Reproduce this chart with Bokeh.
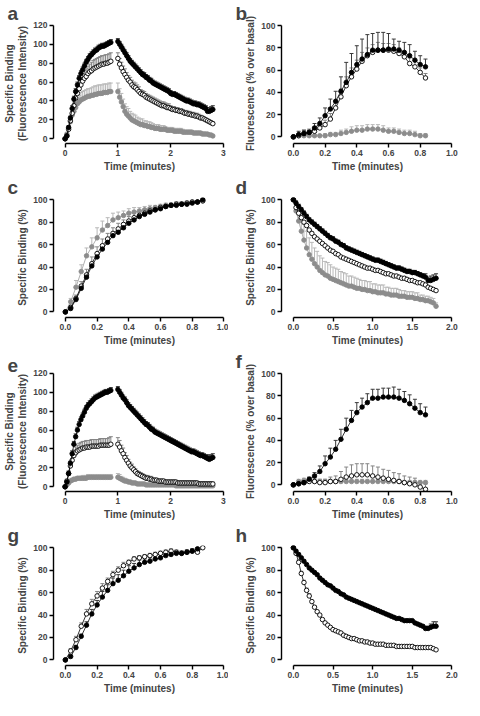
from bokeh.plotting import figure
from bokeh.layouts import gridplot
from bokeh.models import (ColumnDataSource, Whisker, TeeHead, Range1d, FixedTicker,
                          PrintfTickFormatter, LinearAxis)
from bokeh.embed import file_html
from bokeh.resources import INLINE

FONT = "Liberation Sans"

# ---------------- time grids (seconds, 2 s sampling) ----------------
T_ASSOC_SEC = list(range(0, 54, 2))      # 27 points, 0 .. 0.867 min
T_ASSOC26_SEC = list(range(0, 52, 2))    # 26 points, 0 .. 0.833 min
T_DISS_SEC = list(range(0, 110, 2))      # 55 points, 0 .. 1.8 min
DISS_START_SEC = 60                      # dissociation starts at 1 min in a / e

# ---------------- panel a ----------------
A_BLACK_ASSOC = [0, 3, 12, 22, 32, 42, 50, 57, 64, 69, 73, 77, 81, 84, 87, 89, 91, 93, 94, 96, 97, 98, 98, 99, 100, 101, 102]
A_BLACK_ASSOC_ERR = [0, 1, 2, 2, 3, 3, 3, 3, 3, 3, 3, 3, 3, 3, 3, 3, 3, 3, 3, 3, 3, 3, 3, 3, 3, 3, 3]
A_OPEN_ASSOC = [0, 3, 10, 19, 27, 35, 43, 48, 53, 57, 61, 64, 66, 69, 71, 72, 74, 75, 76, 77, 78, 79, 79, 80, 80, 81, 82]
A_OPEN_ASSOC_ERR = [0, 1, 2, 3, 4, 5, 6, 7, 7, 8, 8, 8, 8, 8, 8, 9, 9, 9, 9, 9, 9, 9, 9, 9, 9, 9, 9]
A_GRAY_ASSOC = [0, 5, 11, 18, 25, 29, 33, 37, 39, 41, 42, 43, 44, 45, 45, 46, 46, 47, 47, 48, 48, 48, 49, 49, 49, 50, 50]
A_GRAY_ASSOC_ERR = [0, 1, 2, 3, 4, 5, 6, 7, 7, 8, 8, 8, 8, 8, 8, 8, 9, 9, 9, 9, 9, 9, 9, 9, 9, 9, 9]
A_BLACK_DISS = [103, 100, 97, 94, 91, 88, 85, 82, 80, 78, 76, 74, 72, 70, 68, 67, 65, 64, 62, 61,
                59, 58, 57, 56, 55, 54, 53, 52, 51, 50, 48, 47, 47, 46, 45, 44, 43, 42, 41, 40,
                40, 39, 38, 37, 37, 36, 36, 35, 34, 33, 32, 29, 29, 30, 31]
A_BLACK_DISS_ERR = [3] * 51 + [4, 4, 4, 4]
A_OPEN_DISS = [85, 79, 75, 71, 68, 65, 62, 60, 57, 55, 54, 52, 50, 48, 47, 46, 44, 43, 42, 41,
               40, 39, 38, 37, 36, 35, 35, 34, 33, 33, 32, 31, 31, 30, 30, 29, 29, 28, 27, 27,
               26, 26, 25, 25, 24, 24, 23, 22, 22, 21, 20, 19, 18, 17, 16]
A_OPEN_DISS_ERR = [6, 6, 6, 6, 6, 5, 5, 5, 5, 5, 5, 5, 5, 4, 4, 4, 4, 4, 4, 4,
                   4, 4, 4, 4, 4, 4, 4, 4, 4, 4, 3, 3, 3, 3, 3, 3, 3, 3, 3, 3,
                   3, 3, 3, 3, 3, 3, 3, 3, 2, 2, 2, 2, 2, 2, 2]
A_GRAY_DISS = [50, 44, 39, 34, 29, 26, 24, 22, 20, 19, 18, 17, 16, 15, 15, 14, 14, 13, 13, 12,
               12, 11, 11, 11, 10, 10, 10, 10, 9, 9, 9, 9, 8, 8, 8, 8, 8, 7, 7, 7,
               7, 7, 7, 6, 6, 6, 6, 6, 5, 5, 5, 5, 4, 4, 3]
A_GRAY_DISS_ERR = [9, 9, 9, 8, 8, 8, 8, 7, 7, 7, 7, 6, 6, 6, 6, 5, 5, 5, 5, 5,
                   4, 4, 4, 4, 4, 4, 4, 3, 3, 3, 3, 3, 3, 3, 3, 3, 3, 3, 2, 2,
                   2, 2, 2, 2, 2, 2, 2, 2, 2, 2, 1, 1, 1, 1, 1]

# ---------------- panel b ----------------
B_BLACK = [0, 2, 3, 4, 8, 12, 19, 25, 32, 41, 49, 58, 65, 70, 74, 78, 78, 78, 79, 79, 78, 76, 73, 69, 65, 63]
B_BLACK_ERR = [0, 3, 3, 2, 4, 5, 7, 9, 9, 13, 18, 17, 17, 18, 18, 15, 16, 16, 14, 9, 8, 9, 10, 8, 8, 7]
B_OPEN = [0, 1, 3, 4, 5, 8, 11, 16, 26, 36, 46, 54, 61, 68, 73, 76, 78, 78, 78, 77, 75, 72, 66, 63, 58, 53]
B_OPEN_ERR = [0, 2, 3, 3, 3, 3, 4, 5, 6, 7, 8, 8, 8, 8, 7, 7, 7, 6, 6, 6, 5, 5, 5, 5, 4, 4]
B_GRAY = [0, 1, 1, 1, 1, 1, 1, 2, 2, 3, 4, 5, 6, 6, 7, 7, 7, 6, 5, 5, 4, 3, 3, 2, 1, 1]
B_GRAY_ERR = [0, 1, 1, 1, 1, 1, 2, 2, 2, 3, 3, 4, 4, 4, 4, 4, 4, 4, 3, 3, 3, 3, 3, 3, 2, 2]

# ---------------- panel c ----------------
C_BLACK = [0, 3, 11, 21, 31, 41, 49, 56, 62, 68, 71, 75, 79, 82, 85, 87, 89, 91, 92, 94, 95, 95, 96, 96, 97, 98, 100]
C_BLACK_ERR = [0, 1, 2, 2, 2, 2, 2, 2, 2, 2, 2, 2, 2, 1, 1, 1, 1, 1, 1, 1, 1, 1, 1, 1, 1, 1, 1]
C_OPEN = [0, 4, 12, 23, 33, 43, 52, 59, 65, 70, 74, 78, 81, 84, 86, 88, 90, 91, 93, 94, 95, 96, 96, 97, 98, 98, 99]
C_OPEN_ERR = [0, 2, 3, 4, 5, 6, 6, 6, 5, 5, 5, 4, 4, 4, 3, 3, 3, 2, 2, 2, 2, 2, 2, 1, 1, 1, 1]
C_GRAY = [0, 9, 22, 36, 50, 58, 66, 73, 77, 82, 84, 86, 88, 89, 90, 91, 92, 93, 94, 95, 95, 96, 96, 97, 98, 98, 99]
C_GRAY_ERR = [0, 3, 6, 6, 7, 8, 9, 8, 7, 6, 5, 4, 4, 4, 3, 3, 3, 2, 2, 2, 2, 2, 2, 2, 1, 1, 1]

# ---------------- panel d ----------------
D_BLACK = [100, 97, 94, 91, 88, 85, 82, 80, 78, 76, 74, 72, 70, 68, 66, 65, 63, 62, 60, 59,
           57, 56, 55, 54, 53, 52, 51, 50, 49, 48, 47, 46, 46, 45, 44, 43, 42, 41, 40, 39,
           39, 38, 37, 36, 36, 35, 35, 34, 33, 32, 31, 28, 28, 29, 30]
D_BLACK_ERR = [0] + [2] * 49 + [3, 3, 4, 4, 4]
D_OPEN = [100, 93, 88, 84, 80, 77, 73, 70, 67, 65, 63, 61, 59, 57, 55, 54, 52, 51, 49, 48,
          47, 46, 45, 44, 43, 42, 41, 40, 39, 39, 38, 37, 37, 36, 35, 34, 34, 33, 32, 32,
          31, 30, 30, 29, 28, 28, 27, 26, 26, 25, 24, 22, 21, 20, 19]
D_OPEN_ERR = [0] + [1] * 54
D_GRAY = [100, 90, 81, 72, 64, 57, 51, 47, 43, 40, 37, 35, 33, 32, 30, 29, 28, 27, 26, 25,
          24, 23, 23, 22, 21, 21, 20, 20, 19, 19, 18, 18, 17, 17, 17, 16, 16, 15, 15, 15,
          14, 14, 14, 13, 13, 13, 12, 12, 11, 11, 10, 10, 9, 8, 5]
D_GRAY_ERR = [0, 6, 10, 13, 14, 15, 15, 15, 14, 14, 13, 13, 12, 12, 12, 11, 11, 11, 10, 10,
              10, 9, 9, 9, 9, 8, 8, 8, 8, 8, 7, 7, 7, 7, 7, 6, 6, 6, 6, 6,
              6, 5, 5, 5, 5, 5, 5, 5, 4, 4, 4, 4, 4, 4, 3]

# ---------------- panel e ----------------
E_BLACK_ASSOC = [0, 5, 14, 25, 35, 45, 53, 60, 66, 71, 75, 79, 83, 86, 88, 90, 92, 94, 95, 96, 97, 98, 99, 100, 100, 101, 102]
E_BLACK_ASSOC_ERR = [0, 1, 2, 2, 3, 3, 3, 3, 3, 3, 3, 3, 3, 3, 3, 3, 3, 3, 3, 3, 3, 3, 3, 3, 3, 3, 3]
E_OPEN_ASSOC = [0, 6, 14, 22, 28, 33, 36, 38, 39, 40, 41, 41, 42, 42, 42, 43, 43, 43, 43, 43, 44, 44, 44, 44, 44, 44, 45]
E_OPEN_ASSOC_ERR = [0, 2, 3, 4, 5, 6, 6, 6, 7, 7, 7, 7, 7, 7, 7, 7, 7, 7, 7, 7, 7, 7, 7, 7, 7, 8, 8]
E_GRAY_ASSOC = [0, 2, 4, 6, 7, 8, 8, 9, 9, 9, 9, 9, 9, 10, 10, 10, 10, 10, 10, 10, 10, 10, 10, 10, 10, 10, 10]
E_GRAY_ASSOC_ERR = [0, 1, 1, 2, 2, 2, 2, 2, 2, 2] + [3] * 17
E_BLACK_DISS = [103, 100, 97, 94, 92, 89, 86, 84, 82, 80, 78, 76, 74, 72, 70, 68, 66, 65, 63, 61,
                60, 58, 57, 56, 55, 54, 53, 52, 51, 50, 49, 48, 47, 46, 45, 44, 43, 42, 41, 40,
                39, 38, 37, 37, 36, 35, 34, 33, 33, 32, 31, 30, 29, 30, 31]
E_BLACK_DISS_ERR = [3] * 51 + [4, 4, 4, 4]
E_OPEN_DISS = [45, 42, 38, 35, 31, 28, 25, 22, 20, 18, 16, 14, 13, 12, 11, 10, 9, 9, 8, 8,
               7, 7, 7, 6, 6, 6, 6, 5, 5, 5, 5, 5, 5, 5, 4, 4, 4, 4, 4, 4,
               4, 4, 4, 4, 4, 4, 3, 3, 3, 3, 3, 3, 3, 3, 3]
E_OPEN_DISS_ERR = [7, 7, 6, 6, 5, 5, 4, 4, 4, 3] + [3] * 10 + [2] * 35
E_GRAY_DISS = [10, 9, 8, 7, 6, 6, 5, 5, 4, 4, 4, 3, 3, 3, 3, 3, 2, 2, 2, 2,
               2, 2, 2, 2, 2, 2, 2, 2, 2, 2, 2, 2, 2, 1, 1, 1, 1, 1, 1, 1,
               1, 1, 1, 1, 1, 1, 1, 1, 1, 1, 1, 1, 1, 1, 1]
E_GRAY_DISS_ERR = [4, 4, 3, 3, 3, 2, 2, 2, 2, 2] + [1] * 45

# ---------------- panel f ----------------
F_BLACK = [0, 1, 2, 5, 8, 12, 19, 25, 32, 41, 50, 58, 65, 70, 74, 78, 78, 79, 79, 79, 78, 76, 73, 69, 65, 63]
F_BLACK_ERR = [0, 1, 1, 2, 3, 5, 7, 8, 8, 9, 10, 9, 9, 8, 8, 8, 8, 8, 8, 9, 8, 8, 8, 8, 8, 7]
F_OPEN = [0, 1, 2, 3, 3, 2, 2, 3, 3, 5, 7, 8, 9, 9, 9, 8, 7, 6, 5, 4, 3, 2, 1, 0, -2, -4]
F_OPEN_ERR = [0, 1, 2, 3, 3, 3, 3, 4, 5, 7, 9, 10, 10, 10, 10, 9, 9, 8, 8, 7, 7, 6, 6, 6, 5, 5]
F_GRAY = [0, 3, 4, 4, 3, 3, 3, 3, 3, 3, 3, 3, 3, 3, 3, 3, 3, 3, 3, 3, 3, 2, 2, 2, 2, 2]
F_GRAY_ERR = [0] + [2] * 25

# ---------------- panel g ----------------
G_BLACK = [0, 3, 11, 21, 31, 41, 49, 56, 62, 68, 71, 75, 79, 82, 85, 87, 88, 90, 91, 93, 94, 95, 95, 96, 97, 99]
G_BLACK_ERR = [0, 1, 2, 2, 3, 4, 4, 5, 5, 5, 5, 5, 5, 4, 4, 3, 3, 3, 3, 2, 2, 2, 2, 2, 2, 1]
G_OPEN = [0, 8, 18, 30, 41, 50, 57, 64, 70, 76, 80, 84, 87, 90, 91, 92, 93, 94, 95, 96, 97, 96, 95, 96, 97, 96, 100]
G_OPEN_ERR = [0, 2, 3, 3, 4, 4, 4, 4, 3, 3, 3, 3, 2, 2, 2, 2, 2, 2, 2, 2, 2, 2, 2, 2, 2, 2, 1]

# ---------------- panel h ----------------
H_BLACK = [100, 97, 94, 91, 88, 85, 82, 80, 78, 76, 73, 71, 69, 67, 66, 64, 62, 61, 59, 58,
           56, 55, 54, 53, 52, 51, 50, 49, 48, 47, 46, 45, 44, 43, 42, 41, 40, 39, 38, 37,
           37, 36, 35, 35, 35, 35, 33, 32, 31, 30, 28, 28, 29, 30, 30]
H_BLACK_ERR = [0] + [1] * 49 + [2, 2, 3, 4, 4]
H_OPEN = [100, 95, 87, 77, 69, 62, 57, 52, 47, 43, 40, 36, 33, 31, 29, 27, 26, 25, 24, 22,
          21, 20, 19, 19, 18, 17, 17, 16, 16, 15, 15, 14, 14, 14, 14, 13, 13, 13, 13, 12,
          12, 12, 12, 12, 12, 12, 11, 11, 11, 11, 11, 11, 11, 10, 9]
H_OPEN_ERR = [0, 1, 2, 2, 2, 2, 2, 1, 1, 1] + [1] * 45

# ---------------- labels ----------------
X_LABEL = "Time (minutes)"
Y_LABEL_RAW = ["Specific Binding", "(Fluorescence Intensity)"]
Y_LABEL_FLUO = ["Fluorescence (% over basal)"]
Y_LABEL_PCT = ["Specific Binding (%)"]
TICKS_X3 = [0, 1, 2, 3]
TICKS_X1 = [0.0, 0.2, 0.4, 0.6, 0.8, 1.0]
TICKS_X2 = [0.0, 0.5, 1.0, 1.5, 2.0]
TICKS_Y120 = [0, 20, 40, 60, 80, 100, 120]
TICKS_Y100 = [0, 20, 40, 60, 80, 100]

STYLES = {
    "black": dict(fill="black", line="black", err="#3a3a3a", conn="black"),
    "open": dict(fill="white", line="black", err="#858585", conn="black"),
    "gray": dict(fill="#8c8c8c", line="#8c8c8c", err="#b8b8b8", conn="#9a9a9a"),
}


def to_min(secs, start=0):
    return [(s + start) / 60.0 for s in secs]


def style_axis(ax):
    ax.axis_line_width = 1.4
    ax.major_tick_line_width = 1.4
    ax.major_tick_out = 4
    ax.major_tick_in = 0
    ax.minor_tick_out = 0
    ax.minor_tick_in = 0
    ax.major_label_text_font = FONT
    ax.major_label_text_font_style = "bold"
    ax.major_label_text_font_size = "8.5px"
    ax.major_label_standoff = 2
    ax.axis_label_text_font = FONT
    ax.axis_label_text_font_style = "bold"
    ax.axis_label_text_font_size = "10px"
    ax.axis_label_standoff = 2


def make_fig(letter, xr, yr, xticks, yticks, xfmt, ylabels):
    p = figure(frame_width=172, frame_height=120, output_backend="svg", toolbar_location=None,
               x_range=Range1d(*xr), y_range=Range1d(*yr),
               min_border_left=48, min_border_right=8, min_border_top=22, min_border_bottom=24)
    p.outline_line_color = None
    p.grid.visible = False
    p.background_fill_color = "white"
    p.border_fill_color = "white"
    for ax, ticks in ((p.xaxis[0], xticks), (p.yaxis[0], yticks)):
        ax.ticker = FixedTicker(ticks=ticks)
        ax.bounds = (ticks[0], ticks[-1])
        style_axis(ax)
    p.xaxis[0].formatter = PrintfTickFormatter(format=xfmt)
    p.yaxis[0].formatter = PrintfTickFormatter(format="%d")
    p.xaxis[0].axis_label = X_LABEL
    p.yaxis[0].axis_label = ylabels[-1]
    if len(ylabels) > 1:
        # outer line of a two-line y label, as a label-only axis
        extra = LinearAxis(ticker=FixedTicker(ticks=[]), axis_label=ylabels[0])
        style_axis(extra)
        extra.axis_line_color = None
        extra.major_tick_out = 0
        extra.major_label_text_font_size = "0px"
        extra.major_label_standoff = 0
        extra.axis_label_standoff = 0
        p.add_layout(extra, "left")
    p.title.text = letter
    p.title.align = "left"
    p.title.text_font = FONT
    p.title.text_font_style = "bold"
    p.title.text_font_size = "19px"
    p.title.offset = -46
    p.title.standoff = 0
    return p


def series(p, t, y, err, kind, line=True):
    st = STYLES[kind]
    n = min(len(t), len(y), len(err))
    t, y, err = t[:n], y[:n], err[:n]
    src = ColumnDataSource(dict(x=t, y=y, up=[a + b for a, b in zip(y, err)]))
    w = Whisker(source=src, base="x", lower="y", upper="up", dimension="height",
                line_color=st["err"], line_width=1, level="underlay",
                upper_head=TeeHead(size=4, line_color=st["err"], line_width=1),
                lower_head=None)
    p.add_layout(w)
    if line:
        p.line("x", "y", source=src, line_color=st["conn"], line_width=0.8)
    p.scatter("x", "y", source=src, marker="circle", size=4.5, fill_color=st["fill"],
              line_color=st["line"], line_width=0.9)


# panel a
pa = make_fig("a", (-0.22, 3.04), (-5, 122), TICKS_X3, TICKS_Y120, "%d", Y_LABEL_RAW)
series(pa, to_min(T_ASSOC_SEC), A_GRAY_ASSOC, A_GRAY_ASSOC_ERR, "gray")
series(pa, to_min(T_DISS_SEC, DISS_START_SEC), A_GRAY_DISS, A_GRAY_DISS_ERR, "gray")
series(pa, to_min(T_ASSOC_SEC), A_OPEN_ASSOC, A_OPEN_ASSOC_ERR, "open")
series(pa, to_min(T_DISS_SEC, DISS_START_SEC), A_OPEN_DISS, A_OPEN_DISS_ERR, "open")
series(pa, to_min(T_ASSOC_SEC), A_BLACK_ASSOC, A_BLACK_ASSOC_ERR, "black")
series(pa, to_min(T_DISS_SEC, DISS_START_SEC), A_BLACK_DISS, A_BLACK_DISS_ERR, "black")

# panel b
pb = make_fig("b", (-0.075, 1.01), (-6, 102), TICKS_X1, TICKS_Y100, "%.1f", Y_LABEL_FLUO)
series(pb, to_min(T_ASSOC26_SEC), B_GRAY, B_GRAY_ERR, "gray")
series(pb, to_min(T_ASSOC26_SEC), B_OPEN, B_OPEN_ERR, "open")
series(pb, to_min(T_ASSOC26_SEC), B_BLACK, B_BLACK_ERR, "black")

# panel c
pc = make_fig("c", (-0.075, 1.01), (-5, 102), TICKS_X1, TICKS_Y100, "%.1f", Y_LABEL_PCT)
series(pc, to_min(T_ASSOC_SEC), C_GRAY, C_GRAY_ERR, "gray")
series(pc, to_min(T_ASSOC_SEC), C_OPEN, C_OPEN_ERR, "open")
series(pc, to_min(T_ASSOC_SEC), C_BLACK, C_BLACK_ERR, "black")

# panel d
pd_ = make_fig("d", (-0.15, 2.02), (-5, 102), TICKS_X2, TICKS_Y100, "%.1f", Y_LABEL_PCT)
series(pd_, to_min(T_DISS_SEC), D_GRAY, D_GRAY_ERR, "gray")
series(pd_, to_min(T_DISS_SEC), D_OPEN, D_OPEN_ERR, "open")
series(pd_, to_min(T_DISS_SEC), D_BLACK, D_BLACK_ERR, "black")

# panel e
pe = make_fig("e", (-0.22, 3.04), (-5, 122), TICKS_X3, TICKS_Y120, "%d", Y_LABEL_RAW)
series(pe, to_min(T_ASSOC_SEC), E_GRAY_ASSOC, E_GRAY_ASSOC_ERR, "gray")
series(pe, to_min(T_DISS_SEC, DISS_START_SEC), E_GRAY_DISS, E_GRAY_DISS_ERR, "gray")
series(pe, to_min(T_ASSOC_SEC), E_OPEN_ASSOC, E_OPEN_ASSOC_ERR, "open")
series(pe, to_min(T_DISS_SEC, DISS_START_SEC), E_OPEN_DISS, E_OPEN_DISS_ERR, "open")
series(pe, to_min(T_ASSOC_SEC), E_BLACK_ASSOC, E_BLACK_ASSOC_ERR, "black")
series(pe, to_min(T_DISS_SEC, DISS_START_SEC), E_BLACK_DISS, E_BLACK_DISS_ERR, "black")

# panel f
pf = make_fig("f", (-0.075, 1.01), (-6, 102), TICKS_X1, TICKS_Y100, "%.1f", Y_LABEL_FLUO)
series(pf, to_min(T_ASSOC26_SEC), F_GRAY, F_GRAY_ERR, "gray")
series(pf, to_min(T_ASSOC26_SEC), F_OPEN, F_OPEN_ERR, "open")
series(pf, to_min(T_ASSOC26_SEC), F_BLACK, F_BLACK_ERR, "black")

# panel g
pg = make_fig("g", (-0.075, 1.01), (-5, 102), TICKS_X1, TICKS_Y100, "%.1f", Y_LABEL_PCT)
series(pg, to_min(T_ASSOC_SEC), G_OPEN, G_OPEN_ERR, "open")
series(pg, to_min(T_ASSOC26_SEC), G_BLACK, G_BLACK_ERR, "black")

# panel h
ph = make_fig("h", (-0.15, 2.02), (-5, 102), TICKS_X2, TICKS_Y100, "%.1f", Y_LABEL_PCT)
series(ph, to_min(T_DISS_SEC), H_OPEN, H_OPEN_ERR, "open")
series(ph, to_min(T_DISS_SEC), H_BLACK, H_BLACK_ERR, "black")

grid = gridplot([[pa, pb], [pc, pd_], [pe, pf], [pg, ph]], toolbar_location=None)

open("out.html", "w").write(file_html(grid, INLINE))
